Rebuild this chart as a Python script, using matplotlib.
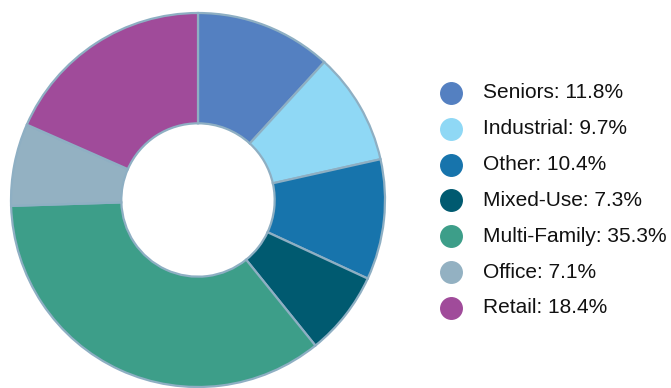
import matplotlib
matplotlib.use('Agg')
import matplotlib.pyplot as plt

# 各類別及其占比
categories = ['Seniors', 'Industrial', 'Other', 'Mixed-Use', 'Multi-Family', 'Office', 'Retail']
shares = [11.8, 9.7, 10.4, 7.3, 35.3, 7.1, 18.4]
colors = ['#5480c1', '#8fd8f5', '#1774ac', '#005a70', '#3d9e89', '#93b1c2', '#a04b9a']

plt.rcParams['font.family'] = ['Liberation Sans', 'DejaVu Sans']

W, H = 671, 388
fig = plt.figure(figsize=(W / 100, H / 100), dpi=100)

# 環形圖
cx, cy, r = 198, 188, 187
ax = fig.add_axes([(cx - r) / W, (cy - r) / H, 2 * r / W, 2 * r / H])
ax.pie(shares, colors=colors, startangle=90, counterclock=False, radius=1,
       wedgeprops=dict(width=0.59, edgecolor='#8eafc3', linewidth=1.6))
ax.set_xlim(-1.0, 1.0)
ax.set_ylim(-1.0, 1.0)
ax.set_aspect('equal')
ax.axis('off')

# 圖例
y0, dy = 93, 35.8
for i, (name, val, c) in enumerate(zip(categories, shares, colors)):
    y = 1 - (y0 + i * dy) / H
    fig.add_artist(plt.Line2D([451 / W], [y], marker='o', markersize=15.5,
                              color=c, linestyle='none', transform=fig.transFigure))
    fig.text(483 / W, y, f'{name}: {val}%', fontsize=15, color='#111111',
             va='center', ha='left')

plt.savefig('out.png', dpi=100)
